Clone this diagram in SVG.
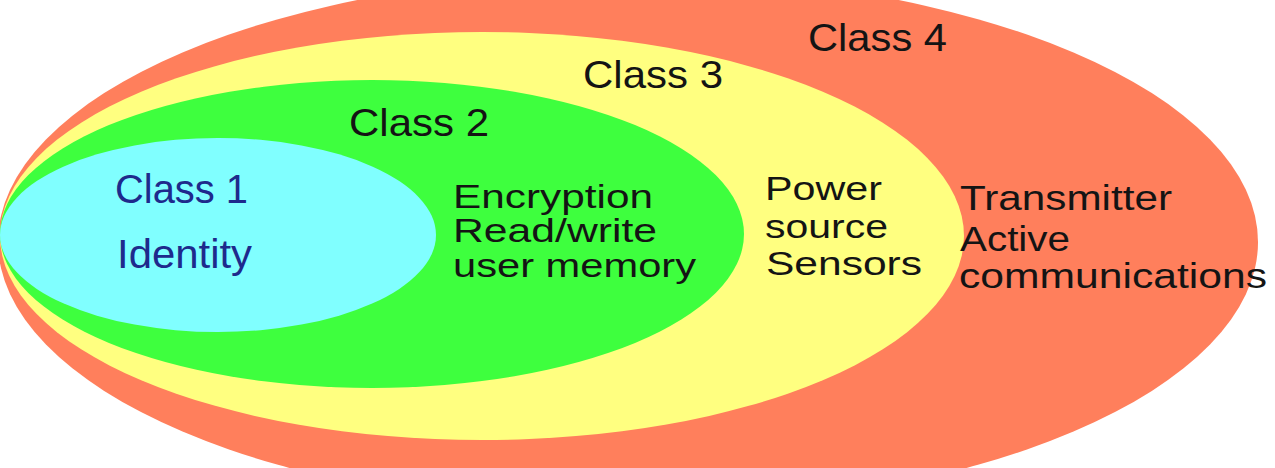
<svg xmlns="http://www.w3.org/2000/svg" width="1275" height="468" viewBox="0 0 1275 468">
  <style>
    .lbl { font-family: "Liberation Sans", Arial, sans-serif; fill: #141414; }
    .blue { fill: #1E2A8C; }
  </style>
  <rect width="1275" height="468" fill="#ffffff"/>
  <g id="class4">
    <ellipse cx="628" cy="242" rx="630" ry="268" fill="#FF7F5C"/>
  </g>
  <g id="class3">
    <ellipse cx="482" cy="236" rx="482" ry="204" fill="#FFFF80"/>
  </g>
  <g id="class2">
    <ellipse cx="372" cy="234" rx="372" ry="154" fill="#3EFF3E"/>
  </g>
  <g id="class1">
    <ellipse cx="218" cy="235" rx="218" ry="97" fill="#80FFFF"/>
  </g>
  <g id="connectors"></g>
  <g id="labels">
    <text class="lbl" x="808" y="51" font-size="39" textLength="139" lengthAdjust="spacingAndGlyphs">Class 4</text>
    <text class="lbl" x="583" y="88" font-size="39" textLength="140" lengthAdjust="spacingAndGlyphs">Class 3</text>
    <text class="lbl" x="349" y="136" font-size="39" textLength="140" lengthAdjust="spacingAndGlyphs">Class 2</text>
    <text class="lbl blue" x="115" y="203" font-size="40" textLength="133" lengthAdjust="spacingAndGlyphs">Class 1</text>
    <text class="lbl blue" x="117" y="268" font-size="40" textLength="135" lengthAdjust="spacingAndGlyphs">Identity</text>
    <text class="lbl" x="453" y="208" font-size="33" textLength="200" lengthAdjust="spacingAndGlyphs">Encryption</text>
    <text class="lbl" x="453" y="242" font-size="33" textLength="204" lengthAdjust="spacingAndGlyphs">Read/write</text>
    <text class="lbl" x="453" y="277" font-size="33" textLength="243" lengthAdjust="spacingAndGlyphs">user memory</text>
    <text class="lbl" x="765" y="200" font-size="34" textLength="117" lengthAdjust="spacingAndGlyphs">Power</text>
    <text class="lbl" x="765" y="238" font-size="34" textLength="123" lengthAdjust="spacingAndGlyphs">source</text>
    <text class="lbl" x="766" y="275" font-size="34" textLength="156" lengthAdjust="spacingAndGlyphs">Sensors</text>
    <text class="lbl" x="960" y="210" font-size="35" textLength="212" lengthAdjust="spacingAndGlyphs">Transmitter</text>
    <text class="lbl" x="960" y="251" font-size="35" textLength="110" lengthAdjust="spacingAndGlyphs">Active</text>
    <text class="lbl" x="959" y="288" font-size="35" textLength="308" lengthAdjust="spacingAndGlyphs">communications</text>
  </g>
</svg>
